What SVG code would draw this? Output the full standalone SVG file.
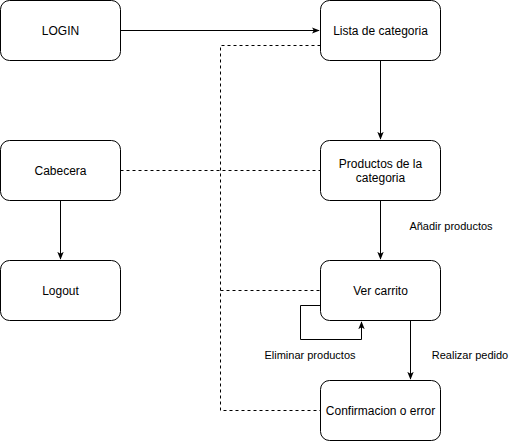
<svg xmlns="http://www.w3.org/2000/svg" width="521" height="441" viewBox="0 0 521 441">
<style>
.box{fill:#fff;stroke:#000;stroke-width:1}
.t{font-family:"Liberation Sans",Arial,sans-serif;font-size:12px;text-anchor:middle;fill:#000}
.lbl{font-family:"Liberation Sans",Arial,sans-serif;font-size:11px;text-anchor:middle;fill:#000}
.e{fill:none;stroke:#000;stroke-width:1}
.d{fill:none;stroke:#000;stroke-width:1;stroke-dasharray:3 3}
</style>
<defs>
<marker id="a" viewBox="0 0 10 10" refX="9" refY="5" markerWidth="8" markerHeight="8" markerUnits="userSpaceOnUse" orient="auto">
<path d="M0,1 L10,5 L0,9 L2.5,5 Z" fill="#000"/>
</marker>
</defs>
<rect width="521" height="441" fill="#fff"/>
<g id="connectors">
<path class="d" d="M320.5,45.5 H220.5 V410.5 H320.5"/>
<path class="d" d="M220.5,290.5 H320.5"/>
<path class="d" d="M120.5,170.5 H320.5"/>
<path class="e" d="M120.5,30.5 H319" marker-end="url(#a)"/>
<path class="e" d="M380.5,60.5 V139" marker-end="url(#a)"/>
<path class="e" d="M380.5,200.5 V259" marker-end="url(#a)"/>
<path class="e" d="M60.5,200.5 V259" marker-end="url(#a)"/>
<path class="e" d="M410.5,320.5 V379" marker-end="url(#a)"/>
<path class="e" d="M320.5,305.5 H300.5 V339.5 H361.5 V322" marker-end="url(#a)"/>
<text class="lbl" x="310" y="359">Eliminar productos</text>
<text class="lbl" x="470" y="359">Realizar pedido</text>
<text class="lbl" x="451" y="230">Añadir productos</text>
</g>
<g id="login"><rect class="box" x="0.5" y="0.5" width="120" height="60" rx="9"/><text class="t" x="60.5" y="34.5">LOGIN</text></g>
<g id="lista"><rect class="box" x="320.5" y="0.5" width="120" height="60" rx="9"/><text class="t" x="380.5" y="34.5">Lista de categoria</text></g>
<g id="cabecera"><rect class="box" x="0.5" y="140.5" width="120" height="60" rx="9"/><text class="t" x="60.5" y="174.5">Cabecera</text></g>
<g id="productos"><rect class="box" x="320.5" y="140.5" width="120" height="60" rx="9"/><text class="t" x="380.5" y="167.5">Productos de la</text><text class="t" x="380.5" y="181.5">categoria</text></g>
<g id="logout"><rect class="box" x="0.5" y="260.5" width="120" height="60" rx="9"/><text class="t" x="60.5" y="294.5">Logout</text></g>
<g id="carrito"><rect class="box" x="320.5" y="260.5" width="120" height="60" rx="9"/><text class="t" x="380.5" y="294.5">Ver carrito</text></g>
<g id="confirmacion"><rect class="box" x="320.5" y="380.5" width="120" height="60" rx="9"/><text class="t" x="380.5" y="414.5">Confirmacion o error</text></g>
</svg>
